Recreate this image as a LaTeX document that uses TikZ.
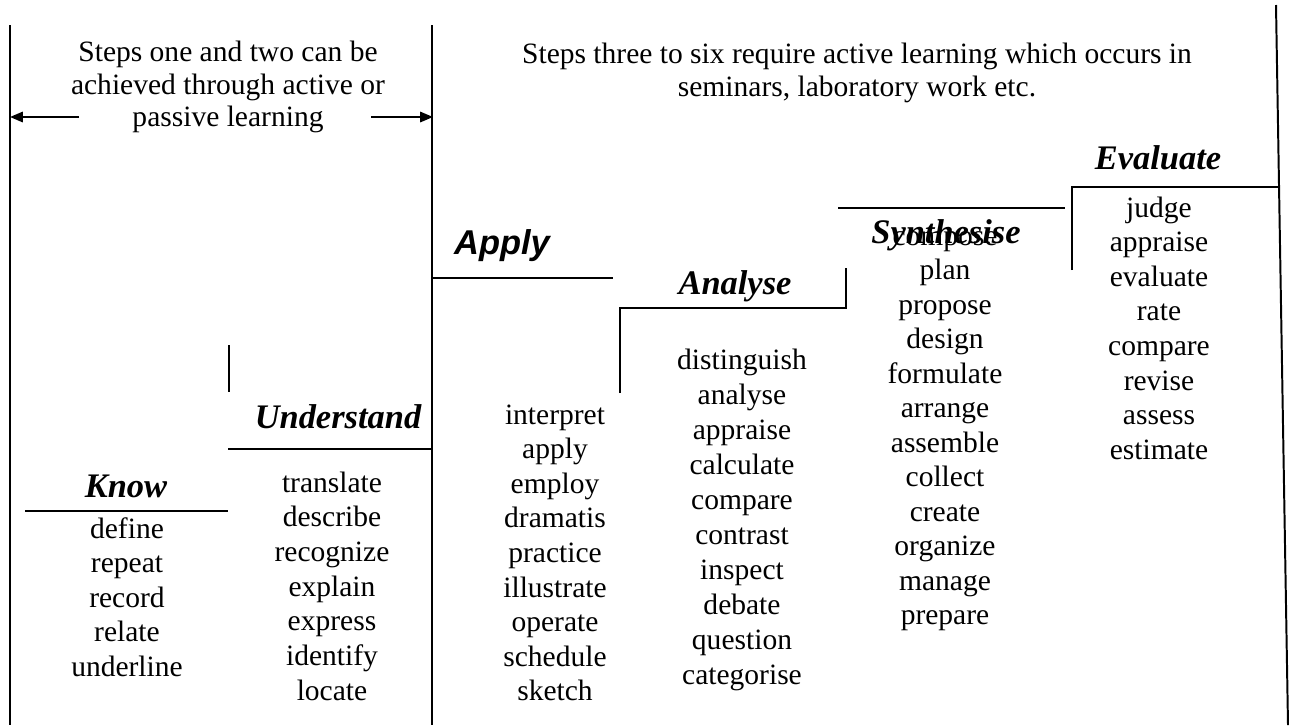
\documentclass[tikz,border=0pt]{standalone}
\usepackage{fontspec}
\setmainfont{Liberation Serif}
\newfontfamily\arialf{Liberation Sans}
\usetikzlibrary{arrows.meta}
\begin{document}
\begin{tikzpicture}[x=0.4065pt,y=-0.4065pt,
  ln/.style={line width=0.8pt},
  word/.style={font=\fontsize{12}{14}\selectfont, anchor=base, inner sep=0pt},
  head/.style={font=\fontsize{14}{16}\selectfont\bfseries\itshape, anchor=base, inner sep=0pt},
  sanshead/.style={head, font=\arialf\fontsize{14}{16}\selectfont\bfseries\itshape},
  arr/.style={ln,-{Triangle[length=5.2pt,width=4.2pt]}}]
\useasboundingbox (0,0) rectangle (1290,725);

% frame lines
\coordinate (L1t) at (10,25);   \coordinate (L1b) at (10,725);
\coordinate (L2t) at (432,25);  \coordinate (L2b) at (432,725);
\coordinate (L3t) at (1276,5);  \coordinate (L3b) at (1288,725);
\draw[ln] (L1t) -- (L1b);
\draw[ln] (L2t) -- (L2b);
\draw[ln] (L3t) -- (L3b);

% top texts
\node[word] (ta) at (228,61)  {Steps one and two can be};
\node[word] (tb) at (228,94)  {achieved through active or};
\node[word] (tc) at (228,126) {passive learning};
\node[word] (ra) at (857,63)  {Steps three to six require active learning which occurs in};
\node[word] (rb) at (857,96)  {seminars, laboratory work etc.};

% arrows
\coordinate (a1s) at (79,117);  \coordinate (a1e) at (10,117);
\coordinate (a2s) at (371,117); \coordinate (a2e) at (433,117);
\draw[arr] (a1s) -- (a1e);
\draw[arr] (a2s) -- (a2e);

% headings
\node[head] (know) at (126,497) {Know};
\node[head] (und) at (338,428) {Understand};
\node[sanshead] (apply) at (502,254) {Apply};
\node[head] (ana) at (735,294) {Analyse};
\node[head] (syn) at (946,243) {Synthesise};
\node[head] (eva) at (1158,169) {Evaluate};

% step lines
\draw[ln] (25,511) -- (228,511);
\draw[ln] (229,345) -- (229,392);
\draw[ln] (228,449) -- (432,449);
\draw[ln] (432,278) -- (613,278);
\draw[ln] (620,393) -- (620,308) -- (846,308) -- (846,268);
\draw[ln] (838,208) -- (1065,208);
\draw[ln] (1072,270) -- (1072,187) -- (1279,187);

% word columns
\foreach \w [count=\i from 0] in {define,repeat,record,relate,underline}
  \node[word] (k\i) at (127,538+34.5*\i) {\w};
\foreach \w [count=\i from 0] in {translate,describe,recognize,explain,express,identify,locate}
  \node[word] (u\i) at (332,492+34.7*\i) {\w};
\foreach \w [count=\i from 0] in {interpret,apply,employ,dramatis,practice,illustrate,operate,schedule,sketch}
  \node[word] (p\i) at (555,424+34.6*\i) {\w};
\foreach \w [count=\i from 0] in {distinguish,analyse,appraise,calculate,compare,contrast,inspect,debate,question,categorise}
  \node[word] (n\i) at (742,369+35*\i) {\w};
\foreach \w [count=\i from 0] in {compose,plan,propose,design,formulate,arrange,assemble,collect,create,organize,manage,prepare}
  \node[word] (s\i) at (945,245+34.5*\i) {\w};
\foreach \w [count=\i from 0] in {judge,appraise,evaluate,rate,compare,revise,assess,estimate}
  \node[word] (e\i) at (1159,217+34.6*\i) {\w};
\end{tikzpicture}
\end{document}
